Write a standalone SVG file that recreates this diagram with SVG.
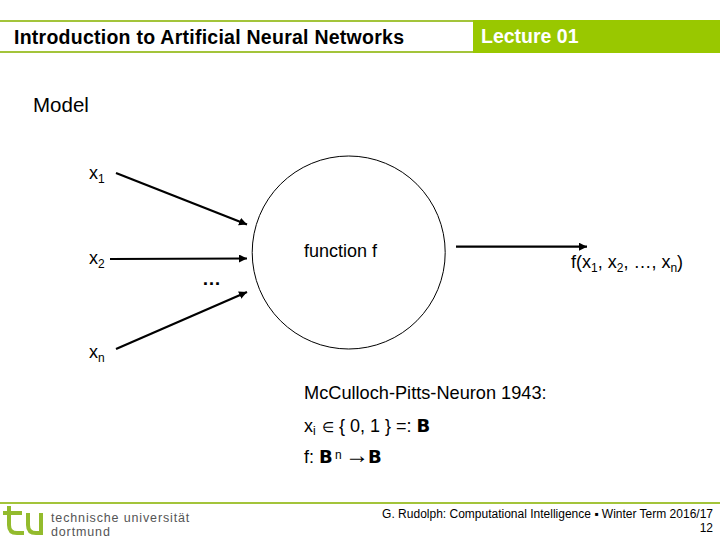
<svg xmlns="http://www.w3.org/2000/svg" width="720" height="540" viewBox="0 0 720 540">
<style>
text{font-family:"Liberation Sans",Arial,sans-serif;fill:#000}
.s{font-size:18px}
.sub{font-size:12px}
.bb{font-weight:bold;font-family:"DejaVu Sans",sans-serif}
.conn{stroke:#000;stroke-width:2.2;fill:none;marker-end:url(#arrow)}
.g{fill:#99c800}
.line{fill:#a3c43a}
.logo{font-size:12.500px;fill:#555;letter-spacing:.86px}
</style>
<defs>
<marker id="arrow" markerUnits="userSpaceOnUse" markerWidth="10" markerHeight="10" refX="8" refY="4" orient="auto"><path d="M0 0L8 4L0 8Z" fill="#000"/></marker>
</defs>
<g id="header">
<rect class="line" x="0" y="20" width="473" height="2"/>
<rect class="line" x="0" y="51" width="473" height="2"/>
<rect class="g" x="473" y="20" width="247" height="33"/>
<text x="14" y="44" style="font-size:19.500px;font-weight:bold" textLength="390">Introduction to Artificial Neural Networks</text>
<text x="481" y="43" style="font-size:19.500px;font-weight:bold;fill:#fff">Lecture 01</text>
</g>
<text x="33" y="112" style="font-size:20.500px">Model</text>
<g id="neuron"><circle cx="348.700" cy="252.500" r="96.500" fill="#fff" stroke="#000" stroke-width="1"/>
<text x="304" y="257" class="s">function f</text></g>
<g id="connectors">
<path class="conn" d="M116 173L247 224.500"/>
<path class="conn" d="M110 259L247 258.500"/>
<path class="conn" d="M116 349L247 292"/>
<path class="conn" d="M456 246.700L587 246.700"/>
</g>
<g id="x1"><text x="89" y="179" class="s">x<tspan class="sub" dy="4">1</tspan></text></g>
<g id="x2"><text x="89" y="264" class="s">x<tspan class="sub" dy="4">2</tspan></text></g>
<g id="xn"><text x="89" y="358" class="s">x<tspan class="sub" dy="4">n</tspan></text></g>
<text x="202" y="285" style="font-size:19px;font-weight:bold">…</text>
<g id="output"><text x="571" y="268" class="s">f(x<tspan class="sub" dy="4">1</tspan><tspan dy="-4">, x</tspan><tspan class="sub" dy="4">2</tspan><tspan dy="-4">, …, x</tspan><tspan class="sub" dy="4">n</tspan><tspan dy="-4">)</tspan></text></g>
<g id="notes">
<text x="304" y="399" style="font-size:18.200px">McCulloch-Pitts-Neuron 1943:</text>
<text x="304" y="432" class="s">x<tspan class="sub" dy="3">i</tspan><tspan dy="-3" x="322" style="font-size:14px">∈</tspan><tspan x="339">{ 0, 1 } =: </tspan><tspan class="bb">B</tspan></text>
<text x="304" y="463" class="s">f: <tspan class="bb">B</tspan><tspan class="sub" x="335" dy="-4">n</tspan><tspan x="345" dy="4" style="font-size:24px">→</tspan><tspan x="368" class="bb">B</tspan></text>
</g>
<g id="footer">
<rect class="line" x="0" y="502" width="720" height="2"/>
<path d="M9 506V525Q9 533 17 533H24M3 513H22M28 513V525Q28 533 36 533H41V513" fill="none" stroke="#93bb2d" stroke-width="4"/>
<text x="51" y="521.500" class="logo">technische universität</text>
<text x="51" y="536" class="logo">dortmund</text>
<text x="713" y="518" text-anchor="end" style="font-size:12px">G. Rudolph: Computational Intelligence ▪ Winter Term 2016/17</text>
<text x="713" y="532" text-anchor="end" style="font-size:12px">12</text>
</g>
</svg>
